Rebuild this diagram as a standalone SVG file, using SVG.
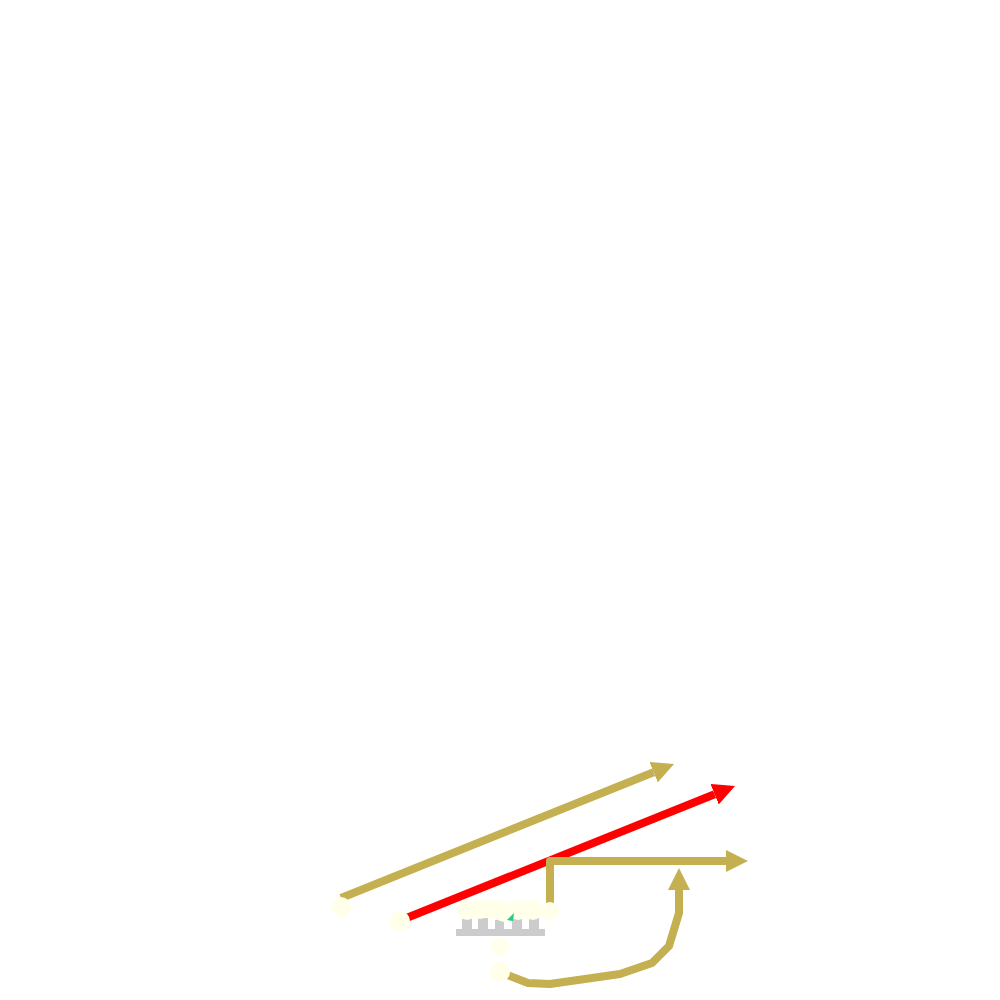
<svg xmlns="http://www.w3.org/2000/svg" width="1000" height="1000" viewBox="0 0 1000 1000">
<style>
.gold{fill:none;stroke:#C4B050;stroke-width:8;stroke-linejoin:round}
.red{fill:none;stroke:#FF0000;stroke-width:8}
.node{fill:#FFFFEA}
.comb{fill:#CCCCCC}
</style>
<defs>
<marker id="ag" markerUnits="userSpaceOnUse" markerWidth="24" markerHeight="24" refX="0" refY="11" orient="auto"><path d="M0,0 L22,11 L0,22 Z" fill="#C4B050"/></marker>
<marker id="ar" markerUnits="userSpaceOnUse" markerWidth="24" markerHeight="24" refX="0" refY="11" orient="auto"><path d="M0,0 L22,11 L0,22 Z" fill="#FF0000"/></marker>
</defs>
<rect width="1000" height="1000" fill="#FFFFFF"/>
<g id="connectors">
<path class="gold" d="M341,898 L653.6,772.2" marker-end="url(#ag)"/>
<path class="red" d="M404,919 L714.6,794.2" marker-end="url(#ar)"/>
<path class="gold" d="M550,905 L550,861 L726,861" marker-end="url(#ag)"/>
<path class="gold" d="M505,974 L528,983 L550,984 L620,974 L652,963 L669,946 L679,913 L679,890" marker-end="url(#ag)"/>
</g>
<g id="comb">
<rect class="comb" x="456" y="929" width="89" height="7"/>
<rect class="comb" x="462" y="918" width="10" height="12"/>
<rect class="comb" x="478" y="918" width="10" height="12"/>
<rect class="comb" x="495" y="920" width="9" height="10"/>
<rect class="comb" x="512" y="918" width="10" height="12"/>
<rect class="comb" x="529" y="918" width="10" height="12"/>
</g>
<g id="node-a"><circle class="node" cx="341" cy="907" r="10"/></g>
<g id="node-b"><circle class="node" cx="400" cy="921" r="10"/></g>
<g id="node-c1"><circle class="node" cx="467" cy="910" r="10"/></g>
<g id="node-c2"><circle class="node" cx="480" cy="909" r="10"/></g>
<g id="node-c3"><circle class="node" cx="493" cy="909" r="10"/></g>
<g id="node-c4"><circle class="node" cx="504" cy="912" r="10"/></g>
<g id="node-c5"><circle class="node" cx="518" cy="910" r="10"/></g>
<g id="node-c6"><circle class="node" cx="533" cy="910" r="10"/></g>
<g id="node-c7"><circle class="node" cx="550" cy="911" r="9"/></g>
<g id="node-tri"><path d="M507,920 L514,913 L513,921 Z" fill="#22CC88"/></g>
<g id="node-d"><circle class="node" cx="500" cy="947" r="9"/></g>
<g id="node-e"><circle class="node" cx="500" cy="972" r="10"/></g>
</svg>
